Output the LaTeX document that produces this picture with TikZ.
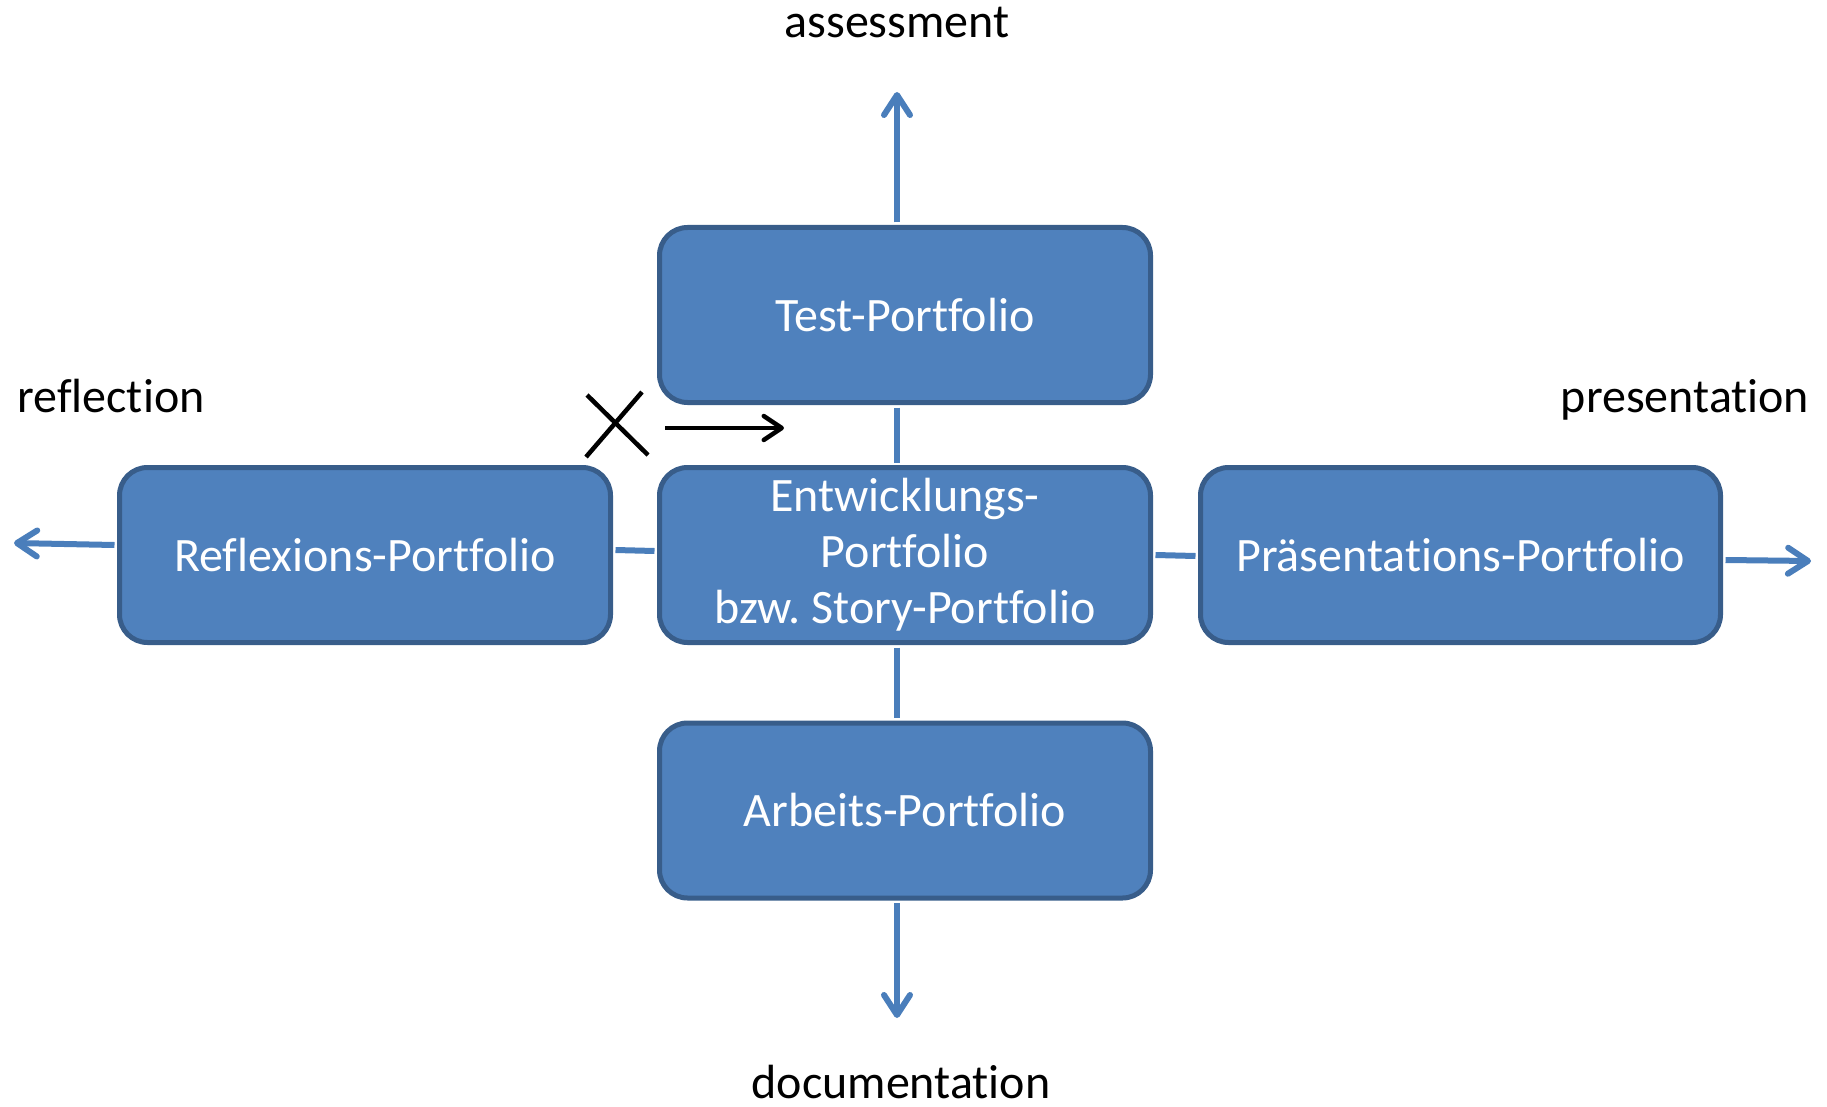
\documentclass[tikz,border=0pt]{standalone}
\usepackage{fontspec}
\setmainfont[Ligatures=NoCommon]{Carlito}
\usetikzlibrary{arrows.meta}
\definecolor{boxfill}{HTML}{4F81BD}
\definecolor{boxline}{HTML}{385D8A}
\definecolor{conncol}{HTML}{4A7EBB}
\tikzset{
  pbox/.style={draw=boxline, fill=boxfill, line width=5pt, rounded corners=28pt,
    minimum height=175pt, text=white, align=center, inner sep=0pt,
    font=\fontsize{48}{56}\selectfont},
  conn/.style={draw=conncol, line width=6pt},
  connarrow/.style={conn, -{Straight Barb[length=20pt,width=26pt,round]}},
  axislabel/.style={font=\fontsize{48}{56}\selectfont, text=black, inner sep=0pt, anchor=base},
  blackmark/.style={draw=black, line width=4.5pt}
}
\begin{document}
\begin{tikzpicture}[x=1pt,y=-1pt]
\useasboundingbox (0,0) rectangle (1827,1107);
% boxes
\node[pbox, minimum width=491pt] (Test) at (905,315) {Test-Portfolio};
\node[pbox, minimum width=491pt] (Entw) at (905,555) {Entwicklungs-\\Portfolio\\bzw.\ Story-Portfolio};
\node[pbox, minimum width=491pt] (Refl) at (365,555) {Reflexions-Portfolio};
\node[pbox, minimum width=520pt] (Pras) at (1460.5,555) {Präsentations-Portfolio};
\node[pbox, minimum width=491pt] (Arb) at (905,810.5) {Arbeits-Portfolio};
% arrow ends
\coordinate (tt) at (897,92);
\coordinate (bt) at (897,1018);
\coordinate (lt) at (14,543);
\coordinate (rt) at (1811,561);
% connectors
\draw[connarrow] ([xshift=-8pt,yshift=2.5pt]Test.north) -- (tt);
\draw[conn] ([xshift=-8pt,yshift=-2.5pt]Test.south) -- ([xshift=-8pt,yshift=2.5pt]Entw.north);
\draw[conn] ([xshift=-8pt,yshift=-2.5pt]Entw.south) -- ([xshift=-8pt,yshift=2.5pt]Arb.north);
\draw[connarrow] ([xshift=-8pt,yshift=-2.5pt]Arb.south) -- (bt);
\draw[connarrow] ([xshift=-2.5pt,yshift=10pt]Refl.west) -- (lt);
\draw[conn] ([xshift=2.5pt,yshift=5pt]Refl.east) -- ([xshift=-2.5pt,yshift=4pt]Entw.west);
\draw[conn] ([xshift=2.5pt,yshift=0pt]Entw.east) -- ([xshift=-2.5pt,yshift=-1pt]Pras.west);
\draw[connarrow] ([xshift=2.5pt,yshift=-5pt]Pras.east) -- (rt);
% labels
\node[axislabel] (assess) at (897,38) {assessment};
\node[axislabel] (reflect) at (111,412) {reflection};
\node[axislabel] (present) at (1685,412) {presentation};
\node[axislabel] (docu) at (901,1098) {documentation};
% X mark and black arrow
\coordinate (x1) at (587,395);
\coordinate (x2) at (648,455);
\coordinate (x3) at (642,392);
\coordinate (x4) at (586,457);
\draw[blackmark] (x1) -- (x2);
\draw[blackmark] (x3) -- (x4);
\coordinate (ba1) at (665,428);
\coordinate (ba2) at (784,428);
\draw[blackmark, -{Straight Barb[length=18pt,width=24pt,round]}] (ba1) -- (ba2);
\end{tikzpicture}
\end{document}
